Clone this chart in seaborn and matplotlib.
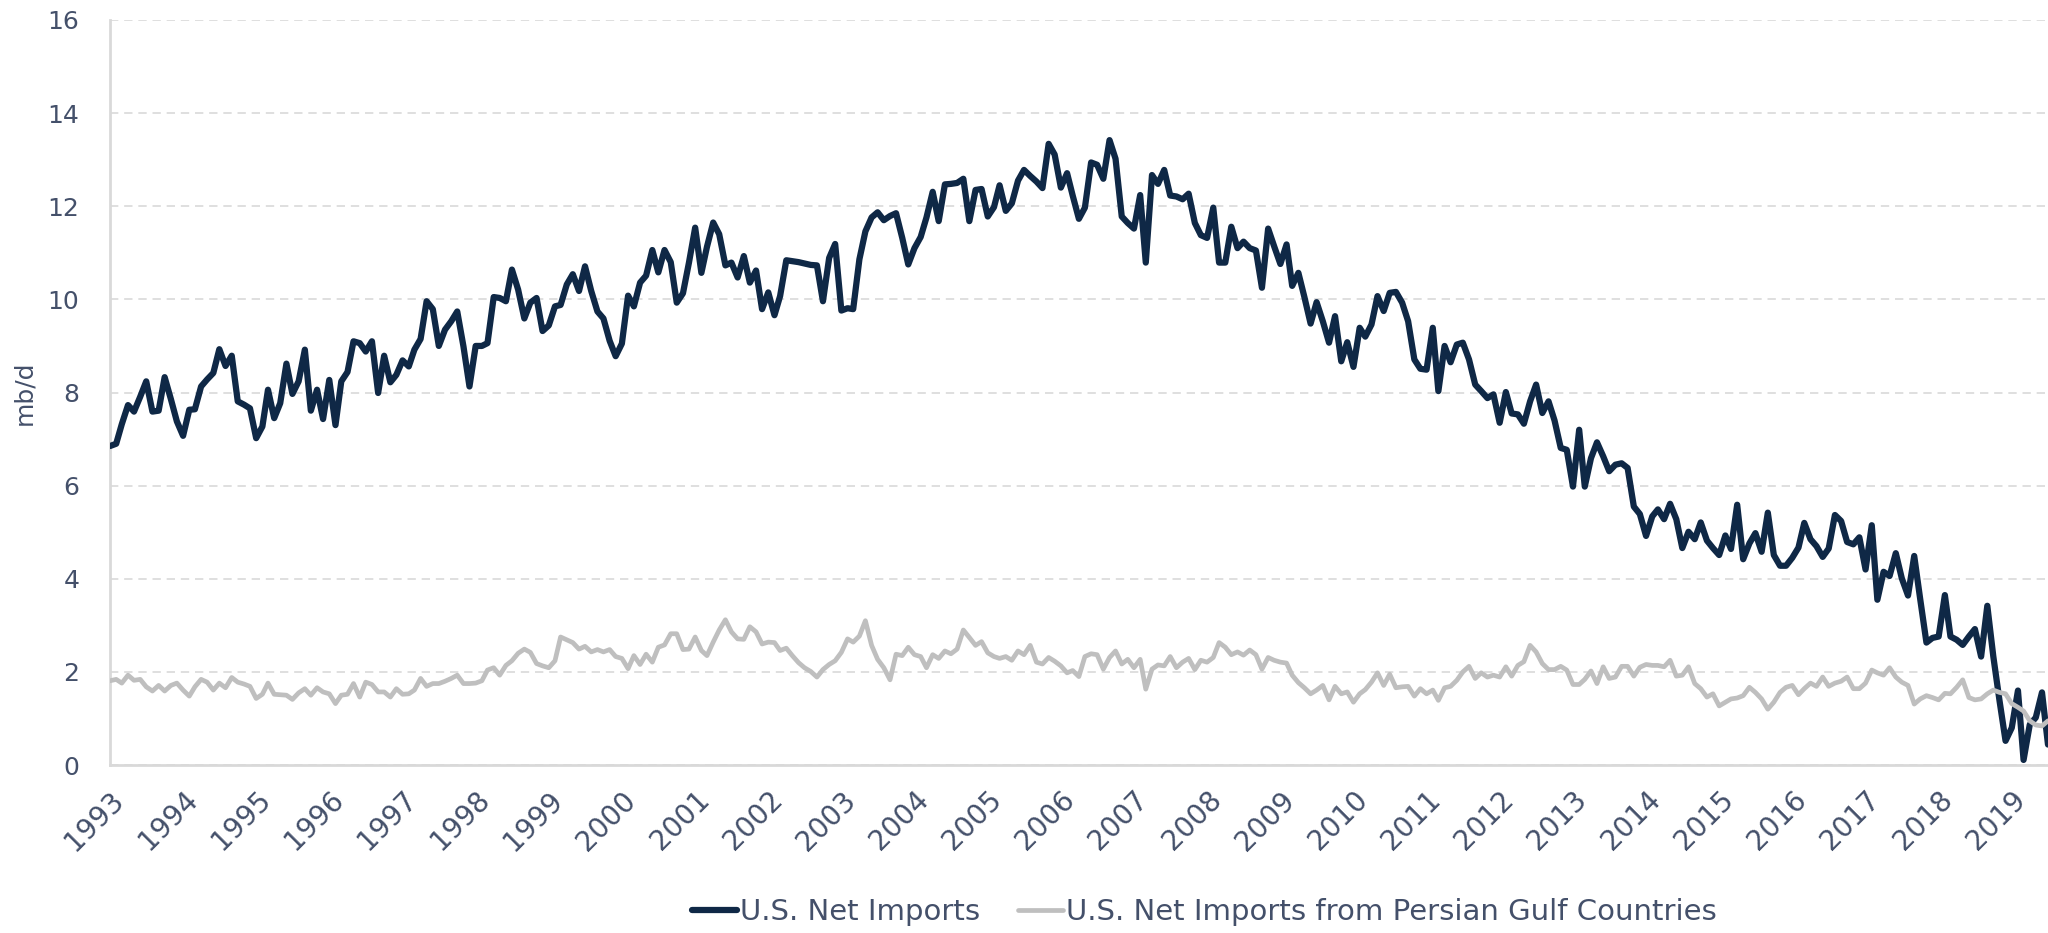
import numpy as np
import pandas as pd
import matplotlib
matplotlib.use("Agg")
import matplotlib.pyplot as plt
import matplotlib.dates as mdates
import seaborn as sns

# monthly data, mb/d, starting Jan 1993
start_month = "1993-01-01"

net_imports = [
    6.85, 6.90, 7.32, 7.73, 7.59, 7.91, 8.24, 7.59, 7.61, 8.33, 7.86, 7.38,  # 1993
    7.07, 7.63, 7.64, 8.13, 8.28, 8.42, 8.93, 8.57, 8.79, 7.81, 7.74, 7.66,  # 1994
    7.02, 7.27, 8.06, 7.45, 7.77, 8.62, 7.97, 8.24, 8.92, 7.61, 8.06, 7.43,  # 1995
    8.27, 7.30, 8.24, 8.44, 9.10, 9.06, 8.88, 9.10, 7.99, 8.79, 8.22, 8.38,  # 1996
    8.69, 8.56, 8.92, 9.15, 9.96, 9.79, 9.00, 9.35, 9.53, 9.74, 8.99, 8.13,  # 1997
    9.00, 9.00, 9.06, 10.05, 10.03, 9.96, 10.64, 10.21, 9.59, 9.93, 10.03, 9.32,  # 1998
    9.44, 9.85, 9.88, 10.32, 10.54, 10.18, 10.71, 10.18, 9.74, 9.59, 9.11, 8.78,  # 1999
    9.05, 10.08, 9.85, 10.36, 10.51, 11.06, 10.58, 11.06, 10.80, 9.93, 10.13, 10.79,  # 2000
    11.54, 10.57, 11.13, 11.65, 11.40, 10.73, 10.79, 10.47, 10.93, 10.36, 10.62, 9.79,  # 2001
    10.15, 9.66, 10.07, 10.84, 10.82, 10.80, 10.77, 10.74, 10.73, 9.96, 10.89, 11.19,  # 2002
    9.76, 9.81, 9.79, 10.86, 11.46, 11.76, 11.87, 11.70, 11.79, 11.85, 11.32, 10.75,  # 2003
    11.10, 11.34, 11.76, 12.31, 11.68, 12.47, 12.48, 12.50, 12.59, 11.68, 12.35, 12.37,  # 2004
    11.78, 11.98, 12.45, 11.90, 12.06, 12.55, 12.78, 12.65, 12.53, 12.39, 13.34, 13.11,  # 2005
    12.40, 12.71, 12.23, 11.73, 11.97, 12.94, 12.89, 12.59, 13.42, 13.02, 11.78, 11.64,  # 2006
    11.52, 12.24, 10.79, 12.67, 12.48, 12.78, 12.23, 12.21, 12.15, 12.27, 11.64, 11.38,  # 2007
    11.32, 11.97, 10.79, 10.79, 11.56, 11.10, 11.24, 11.10, 11.05, 10.25, 11.52, 11.14,  # 2008
    10.76, 11.18, 10.29, 10.57, 10.05, 9.48, 9.94, 9.53, 9.07, 9.64, 8.67, 9.08,  # 2009
    8.55, 9.39, 9.20, 9.46, 10.07, 9.75, 10.14, 10.16, 9.93, 9.53, 8.71, 8.51,  # 2010
    8.49, 9.39, 8.03, 9.00, 8.65, 9.03, 9.07, 8.71, 8.17, 8.03, 7.88, 7.96,  # 2011
    7.35, 8.01, 7.55, 7.53, 7.33, 7.81, 8.17, 7.56, 7.81, 7.40, 6.81, 6.77,  # 2012
    5.98, 7.20, 5.98, 6.59, 6.93, 6.63, 6.31, 6.45, 6.48, 6.38, 5.55, 5.39,  # 2013
    4.92, 5.34, 5.49, 5.28, 5.61, 5.28, 4.66, 5.01, 4.85, 5.21, 4.82, 4.66,  # 2014
    4.51, 4.93, 4.64, 5.59, 4.42, 4.76, 4.98, 4.58, 5.42, 4.51, 4.28, 4.28,  # 2015
    4.45, 4.67, 5.20, 4.85, 4.70, 4.47, 4.65, 5.37, 5.24, 4.79, 4.74, 4.89,  # 2016
    4.20, 5.15, 3.55, 4.15, 4.06, 4.55, 4.01, 3.64, 4.49, 3.56, 2.63, 2.73,  # 2017
    2.76, 3.65, 2.76, 2.69, 2.58, 2.76, 2.92, 2.33, 3.42, 2.33, 1.38, 0.52,  # 2018
    0.80, 1.60, 0.11, 0.87, 1.02, 1.56, 0.44,  # 2019
]

gulf_imports = [
    1.81, 1.84, 1.76, 1.93, 1.82, 1.84, 1.68, 1.59, 1.71, 1.59, 1.71, 1.76,  # 1993
    1.61, 1.48, 1.68, 1.84, 1.78, 1.61, 1.76, 1.66, 1.88, 1.78, 1.74, 1.69,  # 1994
    1.43, 1.52, 1.76, 1.52, 1.51, 1.50, 1.41, 1.55, 1.64, 1.50, 1.66, 1.57,  # 1995
    1.53, 1.32, 1.50, 1.52, 1.75, 1.46, 1.78, 1.73, 1.57, 1.57, 1.46, 1.64,  # 1996
    1.52, 1.53, 1.61, 1.86, 1.69, 1.75, 1.75, 1.80, 1.86, 1.93, 1.75, 1.75,  # 1997
    1.76, 1.81, 2.04, 2.09, 1.93, 2.14, 2.24, 2.40, 2.49, 2.42, 2.18, 2.13,  # 1998
    2.09, 2.24, 2.75, 2.69, 2.63, 2.49, 2.55, 2.43, 2.48, 2.43, 2.48, 2.33,  # 1999
    2.29, 2.07, 2.35, 2.16, 2.38, 2.21, 2.53, 2.58, 2.82, 2.82, 2.48, 2.49,  # 2000
    2.75, 2.46, 2.35, 2.64, 2.90, 3.12, 2.86, 2.71, 2.70, 2.97, 2.86, 2.60,  # 2001
    2.64, 2.63, 2.46, 2.51, 2.35, 2.20, 2.09, 2.01, 1.89, 2.05, 2.16, 2.24,  # 2002
    2.42, 2.71, 2.64, 2.77, 3.10, 2.57, 2.27, 2.09, 1.83, 2.38, 2.35, 2.53,  # 2003
    2.37, 2.33, 2.09, 2.37, 2.29, 2.45, 2.39, 2.49, 2.90, 2.74, 2.57, 2.65,  # 2004
    2.41, 2.33, 2.29, 2.33, 2.25, 2.45, 2.37, 2.57, 2.21, 2.17, 2.31, 2.23,  # 2005
    2.13, 1.98, 2.03, 1.90, 2.33, 2.39, 2.37, 2.06, 2.31, 2.45, 2.17, 2.27,  # 2006
    2.09, 2.27, 1.63, 2.06, 2.15, 2.13, 2.33, 2.09, 2.21, 2.29, 2.05, 2.25,  # 2007
    2.21, 2.31, 2.63, 2.53, 2.37, 2.43, 2.36, 2.47, 2.37, 2.06, 2.31, 2.25,  # 2008
    2.21, 2.19, 1.93, 1.77, 1.66, 1.53, 1.61, 1.71, 1.40, 1.69, 1.53, 1.57,  # 2009
    1.35, 1.53, 1.62, 1.78, 1.98, 1.71, 1.95, 1.66, 1.68, 1.69, 1.48, 1.64,  # 2010
    1.53, 1.61, 1.39, 1.66, 1.69, 1.82, 2.00, 2.12, 1.86, 1.98, 1.89, 1.93,  # 2011
    1.89, 2.11, 1.91, 2.14, 2.22, 2.57, 2.43, 2.18, 2.05, 2.05, 2.12, 2.04,  # 2012
    1.73, 1.73, 1.84, 2.02, 1.75, 2.11, 1.86, 1.89, 2.12, 2.12, 1.91, 2.10,  # 2013
    2.16, 2.14, 2.14, 2.11, 2.25, 1.91, 1.93, 2.11, 1.75, 1.64, 1.46, 1.53,  # 2014
    1.27, 1.35, 1.42, 1.44, 1.49, 1.67, 1.56, 1.42, 1.20, 1.35, 1.56, 1.67,  # 2015
    1.71, 1.51, 1.64, 1.76, 1.69, 1.89, 1.69, 1.76, 1.80, 1.89, 1.64, 1.64,  # 2016
    1.76, 2.04, 1.98, 1.93, 2.09, 1.89, 1.78, 1.71, 1.31, 1.42, 1.49, 1.45,  # 2017
    1.40, 1.54, 1.53, 1.67, 1.83, 1.45, 1.40, 1.42, 1.53, 1.61, 1.56, 1.53,  # 2018
    1.32, 1.24, 1.16, 0.95, 0.86, 0.84, 0.95,  # 2019
]

series_names = ["U.S. Net Imports", "U.S. Net Imports from Persian Gulf Countries"]
year_ticks = list(range(1993, 2020))
y_ticks = [0, 2, 4, 6, 8, 10, 12, 14, 16]
y_label = "mb/d"

# -----------------------------
# long-form table
# -----------------------------
dates = pd.date_range(start_month, periods=len(net_imports), freq="MS")
df = pd.DataFrame({
    "date": list(dates) * 2,
    "value": net_imports + gulf_imports,
    "series": [series_names[0]] * len(net_imports) + [series_names[1]] * len(gulf_imports),
})

sns.set_style("white")
plt.rcParams["font.family"] = ["DejaVu Sans"]

navy = "#0f2846"
light_gray = "#bfbfbf"
text_col = "#44506a"

fig = plt.figure(figsize=(20.48, 9.33), dpi=100)
ax = fig.add_axes([0.0537, 0.18, 0.9463, 0.7986])

sns.lineplot(data=df[df["series"] == series_names[0]], x="date", y="value",
             color=navy, linewidth=4.5, ax=ax, label=series_names[0], zorder=3)
sns.lineplot(data=df[df["series"] == series_names[1]], x="date", y="value",
             color=light_gray, linewidth=3.4, ax=ax, label=series_names[1], zorder=4)

ax.set_ylim(0, 16)
ax.set_yticks(y_ticks)
ax.set_xlim(dates[0], dates[-1])
ax.set_xticks([pd.Timestamp(f"{y}-01-01") for y in year_ticks])
ax.xaxis.set_major_formatter(mdates.DateFormatter("%Y"))

ax.set_xlabel("")
ax.set_ylabel(y_label, fontsize=18, color=text_col, labelpad=8)

ax.tick_params(axis="y", length=0, labelsize=18, labelcolor=text_col, pad=22)
ax.tick_params(axis="x", length=0, labelsize=20, labelcolor=text_col, pad=15)
for lab in ax.get_xticklabels():
    lab.set_rotation(45)
    lab.set_ha("right")
    lab.set_rotation_mode("anchor")

ax.grid(True, axis="y", color="#d9d9d9", linestyle=(0, (5, 3.5)), linewidth=1.2)
ax.grid(False, axis="x")
for side in ["top", "right"]:
    ax.spines[side].set_visible(False)
for side in ["left", "bottom"]:
    ax.spines[side].set_color("#d9d9d9")
    ax.spines[side].set_linewidth(2)

handles, labels = ax.get_legend_handles_labels()
ax.legend(handles, labels, loc="center", bbox_to_anchor=(0.588, 0.0225),
          bbox_transform=fig.transFigure, ncol=2, frameon=False,
          fontsize=21, labelcolor=text_col, handlelength=1.55,
          handletextpad=0.1, columnspacing=1.3)

fig.savefig("out.png", dpi=100)
